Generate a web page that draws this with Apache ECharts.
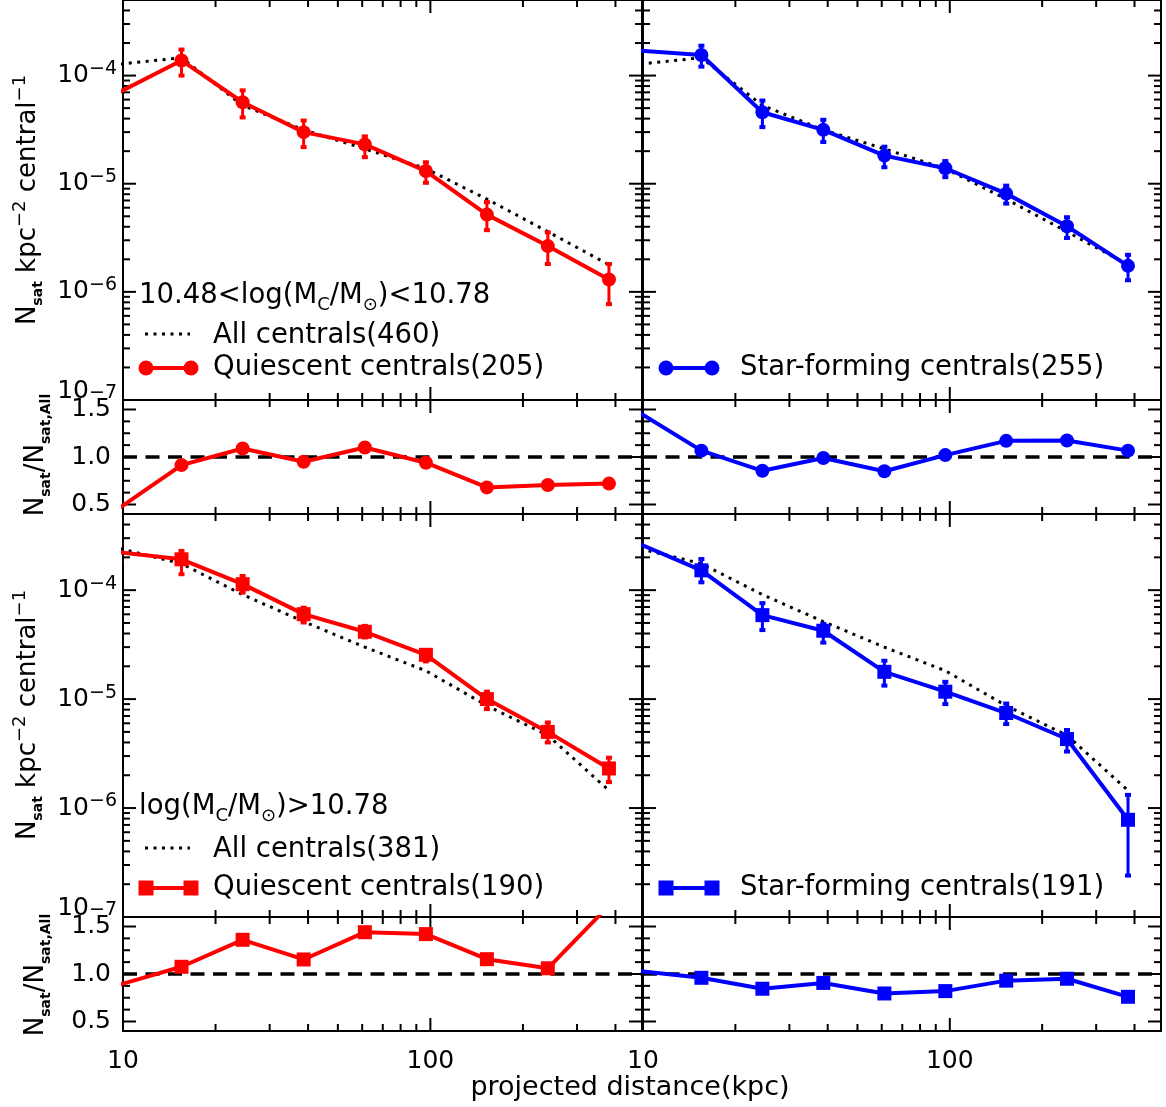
<!DOCTYPE html>
<html><head><meta charset="utf-8">
<script src="https://cdn.jsdelivr.net/npm/echarts@6/dist/echarts.min.js"></script>
<style>html,body{margin:0;padding:0;background:#fff}#c{width:1166px;height:1107px}</style>
</head><body><div id="c"></div>
<script>
// ---------------- data ----------------
const X = [9.8, 15.5, 24.5, 38.7, 61.2, 96.7, 152.7, 241, 381];

// upper mass bin 10.48<log(Mc/Msun)<10.78
const allTop   = [1.28e-4, 1.46e-4, 5.3e-5, 3.15e-5, 2.1e-5, 1.38e-5, 7.2e-6, 3.6e-6, 1.78e-6];
const qTop     = [7.1e-5, 1.38e-4, 5.67e-5, 3.0e-5, 2.31e-5, 1.31e-5, 5.18e-6, 2.65e-6, 1.30e-6];
const qTopLo   = [5.5e-5, 1.0e-4, 4.1e-5, 2.18e-5, 1.76e-5, 1.02e-5, 3.72e-6, 1.81e-6, 7.7e-7];
const qTopHi   = [9.0e-5, 1.74e-4, 7.3e-5, 3.84e-5, 2.74e-5, 1.58e-5, 6.76e-6, 3.55e-6, 1.81e-6];
const sfTop    = [1.70e-4, 1.55e-4, 4.58e-5, 3.15e-5, 1.82e-5, 1.39e-5, 8.1e-6, 4.04e-6, 1.74e-6];
const sfTopLo  = [1.4e-4, 1.21e-4, 3.34e-5, 2.43e-5, 1.42e-5, 1.15e-5, 6.55e-6, 3.15e-6, 1.28e-6];
const sfTopHi  = [2.0e-4, 1.89e-4, 5.88e-5, 3.9e-5, 2.2e-5, 1.62e-5, 9.6e-6, 4.9e-6, 2.2e-6];
const qTopRatio  = [0.47, 0.915, 1.09, 0.95, 1.10, 0.94, 0.68, 0.705, 0.72];
const sfTopRatio = [1.46, 1.067, 0.855, 0.99, 0.85, 1.02, 1.17, 1.173, 1.067];

// lower mass bin log(Mc/Msun)>10.78
const allBot   = [2.4e-4, 1.75e-4, 9.1e-5, 5.15e-5, 3.0e-5, 1.82e-5, 8.7e-6, 4.65e-6, 1.45e-6];
const qBot     = [2.22e-4, 1.92e-4, 1.135e-4, 6.02e-5, 4.15e-5, 2.55e-5, 1.0e-5, 5.0e-6, 2.31e-6];
const qBotLo   = [1.8e-4, 1.40e-4, 9.5e-5, 5.05e-5, 3.68e-5, 2.22e-5, 8.1e-6, 4.0e-6, 1.73e-6];
const qBotHi   = [2.7e-4, 2.29e-4, 1.35e-4, 6.9e-5, 4.7e-5, 2.8e-5, 1.17e-5, 6.1e-6, 2.9e-6];
const sfBot    = [2.64e-4, 1.52e-4, 5.9e-5, 4.24e-5, 1.78e-5, 1.17e-5, 7.45e-6, 4.3e-6, 7.8e-7];
const sfBotLo  = [2.2e-4, 1.18e-4, 4.3e-5, 3.3e-5, 1.33e-5, 9.0e-6, 5.9e-6, 3.3e-6, 2.4e-7];
const sfBotHi  = [3.2e-4, 1.93e-4, 7.6e-5, 4.9e-5, 2.25e-5, 1.44e-5, 9.1e-6, 5.2e-6, 1.32e-6];
const qBotRatio  = [0.89, 1.076, 1.36, 1.153, 1.44, 1.42, 1.156, 1.06, 1.72];
const sfBotRatio = [1.03, 0.96, 0.845, 0.906, 0.795, 0.82, 0.93, 0.95, 0.76];

// axes / ticks
const X_RANGE = [10, 488];
const Y_RANGE = [1e-7, 5e-4];
const R_RANGE = [0.4, 1.6];
const X_MAJOR = [10, 100];
const X_MINOR = [20, 30, 40, 50, 60, 70, 80, 90, 200, 300, 400];
const Y_MAJOR = [1e-7, 1e-6, 1e-5, 1e-4];
const Y_MANTISSA = [2, 3, 4, 5, 6, 7, 8, 9];
const R_MAJOR = [0.5, 1.0, 1.5];
const R_MINOR = [0.625, 0.75, 0.875, 1.125, 1.25, 1.375];

const LEG_TOP = {bin: '{n|10.48<log(M}{sub|C}{n|/M}{sub|⊙}{n|)<10.78}', all: 'All centrals(460)', q: 'Quiescent centrals(205)', sf: 'Star-forming centrals(255)'};
const LEG_BOT = {bin: '{n|log(M}{sub|C}{n|/M}{sub|⊙}{n|)>10.78}', all: 'All centrals(381)', q: 'Quiescent centrals(190)', sf: 'Star-forming centrals(191)'};

// ---------------- chart ----------------
const FONT = 'DejaVu Sans';
const RED = '#ff0000', BLUE = '#0000ff';
const LEG_FS = 27.5;
const Y_MINOR = [];
Y_MAJOR.forEach(d => Y_MANTISSA.forEach(m => { const v = m * d; if (v < Y_RANGE[1]) Y_MINOR.push(v); }));

const cols = [{left: 123, width: 519}, {left: 643, width: 518}];
const rows = [{top: 0, height: 400, main: true}, {top: 400, height: 114, main: false},
              {top: 514, height: 403, main: true}, {top: 917, height: 114, main: false}];

const grid = [], xAxis = [], yAxis = [], series = [];
const isPow10 = v => { const e = Math.log10(v); return Math.abs(e - Math.round(e)) < 1e-6; };

rows.forEach((r, ri) => cols.forEach((c, ci) => {
  const gi = ri * 2 + ci;
  grid.push({left: c.left, top: r.top, width: c.width, height: r.height, show: true,
    borderColor: '#000', borderWidth: 2, backgroundColor: 'transparent',
    containLabel: false, outerBoundsMode: 'none'});
  xAxis.push({type: 'log', logBase: 10, gridIndex: gi, min: X_RANGE[0], max: X_RANGE[1],
    axisLine: {show: false}, axisTick: {show: false}, splitLine: {show: false},
    axisLabel: {show: ri === 3, margin: 18, color: '#000', fontFamily: FONT, fontSize: 25,
      formatter: v => isPow10(v) ? String(Math.round(v)) : ''}});
  if (r.main) {
    yAxis.push({type: 'log', logBase: 10, gridIndex: gi, min: Y_RANGE[0], max: Y_RANGE[1],
      axisLine: {show: false}, axisTick: {show: false}, splitLine: {show: false},
      axisLabel: {show: ci === 0, margin: 6, color: '#000', fontFamily: FONT,
        formatter: v => {
          if (!isPow10(v)) return '';
          const e = Math.round(Math.log10(v));
          if (e === -7) return '{b7|10}{s7|−7}';
          return '{b|10}{s|−' + (-e) + '}';
        },
        rich: {
          b: {fontSize: 25, fontFamily: FONT, color: '#000', lineHeight: 32},
          s: {fontSize: 19, fontFamily: FONT, color: '#000', verticalAlign: 'top'},
          b7: {fontSize: 25, fontFamily: FONT, color: '#000', lineHeight: 32, padding: [0, 0, 18, 0]},
          s7: {fontSize: 19, fontFamily: FONT, color: '#000', verticalAlign: 'top'}
        }}});
  } else {
    yAxis.push({type: 'value', gridIndex: gi, min: R_RANGE[0], max: R_RANGE[1],
      axisLine: {show: false}, axisTick: {show: false}, splitLine: {show: false},
      axisLabel: {show: ci === 0, margin: 12, color: '#000', fontFamily: FONT, fontSize: 25,
        customValues: R_MAJOR, formatter: v => Number(v).toFixed(1)}});
  }
  // tick marks through the axis scales
  const xT = X_MAJOR.map(v => [v, 13]).concat(X_MINOR.map(v => [v, 7]));
  const yT = r.main ? Y_MAJOR.map(v => [v, 13]).concat(Y_MINOR.map(v => [v, 7]))
                    : R_MAJOR.map(v => [v, 13]).concat(R_MINOR.map(v => [v, 7]));
  const yRef = r.main ? 1e-5 : 1;
  series.push({type: 'custom', xAxisIndex: gi, yAxisIndex: gi, silent: true, z: 1, clip: false,
    data: [[20, yRef]],
    renderItem: (params, api) => {
      const cs = params.coordSys;
      const top = cs.y, bot = cs.y + cs.height, left = cs.x, right = cs.x + cs.width;
      const ch = [];
      const ln = (x1, y1, x2, y2) => ({type: 'line', shape: {x1, y1, x2, y2}, style: {stroke: '#000', lineWidth: 2}});
      xT.forEach(([v, len]) => { const px = api.coord([v, yRef])[0]; ch.push(ln(px, bot, px, bot - len), ln(px, top, px, top + len)); });
      yT.forEach(([v, len]) => { const py = api.coord([20, v])[1]; ch.push(ln(left, py, left + len, py), ln(right, py, right - len, py)); });
      return {type: 'group', children: ch};
    }});
}));

const zip = arr => X.map((x, i) => [x, arr[i]]);
function dotted(gi, arr) {
  return {type: 'line', xAxisIndex: gi, yAxisIndex: gi, data: zip(arr), symbol: 'none', z: 3,
    lineStyle: {color: '#000', width: 3, type: [3, 5.5]}, silent: true, animation: false};
}
function mainLine(gi, arr, color, sym) {
  return {type: 'line', xAxisIndex: gi, yAxisIndex: gi, data: zip(arr), symbol: sym,
    symbolSize: sym === 'rect' ? 14 : 14, z: 5, itemStyle: {color}, lineStyle: {color, width: 4},
    silent: true, animation: false};
}
function errBars(gi, lo, hi, color) {
  return {type: 'custom', xAxisIndex: gi, yAxisIndex: gi, silent: true, z: 6, clip: true,
    data: X.map((x, i) => [x, lo[i], hi[i]]), encode: {x: 0, y: [1, 2]},
    renderItem: (params, api) => {
      const p1 = api.coord([api.value(0), api.value(1)]);
      const p2 = api.coord([api.value(0), api.value(2)]);
      const st = {stroke: color, lineWidth: 3};
      return {type: 'group', children: [
        {type: 'line', shape: {x1: p1[0], y1: p1[1], x2: p2[0], y2: p2[1]}, style: st},
        {type: 'line', shape: {x1: p1[0] - 3, y1: p1[1], x2: p1[0] + 3, y2: p1[1]}, style: {stroke: color, lineWidth: 4}},
        {type: 'line', shape: {x1: p2[0] - 3, y1: p2[1], x2: p2[0] + 3, y2: p2[1]}, style: {stroke: color, lineWidth: 4}}
      ]};
    }};
}
function ratioLine(gi, arr, color, sym) {
  const s = mainLine(gi, arr, color, sym);
  s.markLine = {silent: true, symbol: 'none', label: {show: false}, animation: false,
    lineStyle: {color: '#000', width: 3.5, type: [14, 8.5]}, data: [{yAxis: 1}]};
  s.markLine.z = 2;
  return s;
}

series.push(dotted(0, allTop), mainLine(0, qTop, RED, 'circle'), errBars(0, qTopLo, qTopHi, RED));
series.push(dotted(1, allTop), mainLine(1, sfTop, BLUE, 'circle'), errBars(1, sfTopLo, sfTopHi, BLUE));
series.push(ratioLine(2, qTopRatio, RED, 'circle'), ratioLine(3, sfTopRatio, BLUE, 'circle'));
series.push(dotted(4, allBot), mainLine(4, qBot, RED, 'rect'), errBars(4, qBotLo, qBotHi, RED));
series.push(dotted(5, allBot), mainLine(5, sfBot, BLUE, 'rect'), errBars(5, sfBotLo, sfBotHi, BLUE));
series.push(ratioLine(6, qBotRatio, RED, 'rect'), ratioLine(7, sfBotRatio, BLUE, 'rect'));

// ---------------- texts / legends ----------------
const RICH = {
  n: {fontSize: 26, fontFamily: FONT, fill: '#000', lineHeight: 34},
  sub: {fontSize: 14, fontFamily: FONT, fontWeight: 'bold', fill: '#000', verticalAlign: 'bottom'},
  sup: {fontSize: 18, fontFamily: FONT, fill: '#000', verticalAlign: 'top'}
};
const RICH_LEG = {
  n: {fontSize: LEG_FS, fontFamily: FONT, fill: '#000', lineHeight: 36},
  sub: {fontSize: 18, fontFamily: FONT, fill: '#000', verticalAlign: 'bottom'}
};
const T_MAIN = '{n|N}{sub|sat}{n| kpc}{sup|−2}{n| central}{sup|−1}';
const T_RATIO = '{n|N}{sub|sat}{n|/N}{sub|sat,All}';
const graphic = [];
function vtext(x, y, t) {
  graphic.push({type: 'text', x, y, rotation: Math.PI / 2, z: 50,
    style: {text: t, rich: RICH, align: 'center', verticalAlign: 'middle', fill: '#000', fontFamily: FONT}});
}
vtext(28, 200, T_MAIN); vtext(28, 715, T_MAIN);
vtext(36, 455, T_RATIO); vtext(36, 975, T_RATIO);
graphic.push({type: 'text', x: 630, y: 1088, z: 50,
  style: {text: 'projected distance(kpc)', fontSize: 27, fontFamily: FONT, fill: '#000', align: 'center', verticalAlign: 'middle'}});

function ptext(x, y, t, rich) {
  graphic.push({type: 'text', x, y, z: 50,
    style: rich ? {text: t, rich: RICH_LEG, align: 'left', verticalAlign: 'middle', fill: '#000'}
                : {text: t, fontSize: LEG_FS, fontFamily: FONT, fill: '#000', align: 'left', verticalAlign: 'middle'}});
}
function sample(x1, x2, y, color, sym) {
  graphic.push({type: 'line', z: 50, shape: {x1, y1: y, x2, y2: y}, style: {stroke: color, lineWidth: 4}});
  [x1, x2].forEach(cx => {
    if (sym === 'circle') graphic.push({type: 'circle', z: 51, shape: {cx, cy: y, r: 7.5}, style: {fill: color}});
    else graphic.push({type: 'rect', z: 51, shape: {x: cx - 7.5, y: y - 7.5, width: 15, height: 15}, style: {fill: color}});
  });
}
function legendBlock(L, y0, sym, dy) {
  ptext(139, y0, L.bin, true);
  graphic.push({type: 'line', z: 50, shape: {x1: 145, y1: y0 + dy[0] - 2, x2: 190, y2: y0 + dy[0] - 2},
    style: {stroke: '#000', lineWidth: 3, lineDash: [3, 5.5]}});
  ptext(213, y0 + dy[0], L.all, false);
  sample(146, 191, y0 + dy[1], RED, sym);
  ptext(213, y0 + dy[1], L.q, false);
  sample(666, 712, y0 + dy[1], BLUE, sym);
  ptext(740, y0 + dy[1], L.sf, false);
}
legendBlock(LEG_TOP, 296, 'circle', [40, 72]);
legendBlock(LEG_BOT, 807, 'rect', [43, 81]);
const chart = echarts.init(document.getElementById('c'));
chart.setOption({animation: false, backgroundColor: '#fff', grid, xAxis, yAxis, series, graphic});
</script></body></html>
